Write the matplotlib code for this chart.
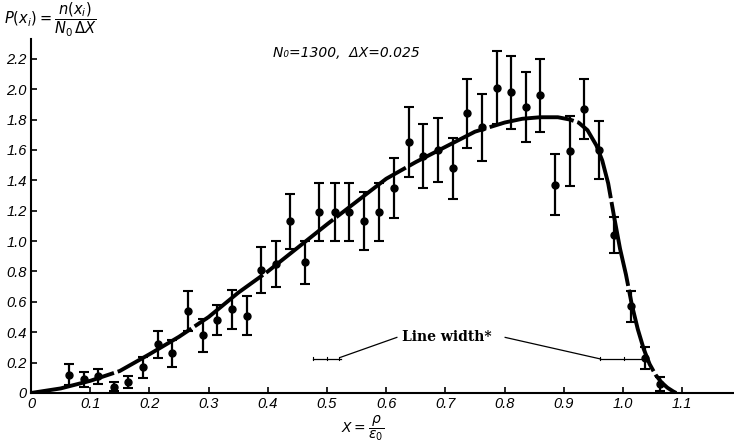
import numpy as np
import matplotlib
matplotlib.use("Agg")
import matplotlib.pyplot as plt

# measured histogram points, X = rho/eps0
x_pts = [0.065, 0.089, 0.114, 0.141, 0.164, 0.189, 0.215, 0.239, 0.265, 0.290,
         0.315, 0.340, 0.365, 0.389, 0.414, 0.438, 0.463, 0.487, 0.514, 0.538,
         0.563, 0.588, 0.614, 0.639, 0.662, 0.687, 0.713, 0.737, 0.762, 0.787,
         0.811, 0.837, 0.860, 0.886, 0.911, 0.934, 0.960, 0.985, 1.013, 1.037,
         1.063]
y_pts = [0.12, 0.09, 0.11, 0.04, 0.07, 0.17, 0.32, 0.26, 0.54, 0.38,
         0.48, 0.55, 0.51, 0.81, 0.85, 1.13, 0.86, 1.19, 1.19, 1.19,
         1.13, 1.19, 1.35, 1.65, 1.56, 1.60, 1.48, 1.84, 1.75, 2.01,
         1.98, 1.88, 1.96, 1.37, 1.59, 1.87, 1.60, 1.04, 0.57, 0.23,
         0.06]
y_err = [0.07, 0.05, 0.05, 0.03, 0.04, 0.07, 0.09, 0.09, 0.13, 0.11,
         0.10, 0.13, 0.13, 0.15, 0.15, 0.18, 0.14, 0.19, 0.19, 0.19,
         0.19, 0.19, 0.20, 0.23, 0.21, 0.21, 0.20, 0.23, 0.22, 0.24,
         0.24, 0.23, 0.24, 0.20, 0.23, 0.20, 0.19, 0.12, 0.10, 0.075,
         0.045]

# fitted curve
x_fit = [0, 0.05, 0.1, 0.15, 0.2, 0.25, 0.3, 0.35, 0.4, 0.45, 0.5, 0.55, 0.6,
         0.65, 0.7, 0.75, 0.8, 0.83, 0.86, 0.89, 0.91, 0.925, 0.94, 0.955,
         0.965, 0.975, 0.985, 0.995, 1.005, 1.015, 1.025, 1.035, 1.045, 1.055,
         1.065, 1.075, 1.085, 1.09]
y_fit = [0, 0.03, 0.08, 0.145, 0.255, 0.37, 0.50, 0.66, 0.80, 0.955, 1.11,
         1.26, 1.41, 1.52, 1.62, 1.72, 1.78, 1.805, 1.815, 1.815, 1.80, 1.78,
         1.73, 1.63, 1.53, 1.38, 1.16, 0.95, 0.78, 0.58, 0.42, 0.29, 0.19,
         0.12, 0.07, 0.035, 0.01, 0.0]

xticks = [0.1, 0.2, 0.3, 0.4, 0.5, 0.6, 0.7, 0.8, 0.9, 1.0, 1.1]
yticks = [0, 0.2, 0.4, 0.6, 0.8, 1.0, 1.2, 1.4, 1.6, 1.8, 2.0, 2.2]

fig = plt.figure(figsize=(7.34, 4.45), dpi=100)
ax = fig.add_axes([31/734, 52/445, 701.5/734, 354/445])

ax.plot(x_fit, y_fit, color="black", lw=2.8, dashes=[22, 1.0], solid_capstyle="round")
ax.errorbar(x_pts, y_pts, yerr=y_err, fmt="o", color="black", ms=5,
            elinewidth=1.6, capsize=3.5, capthick=1.5)

# "line width" markers
ax.plot([0.618, 0.523], [0.366, 0.235], color="black", lw=0.9)
ax.plot([0.477, 0.523], [0.224, 0.224], color="black", lw=0.9)
ax.plot([0.801, 0.962], [0.366, 0.224], color="black", lw=0.9)
ax.plot([0.962, 1.038], [0.224, 0.224], color="black", lw=0.9)
for xt in [0.477, 0.50, 0.52, 0.962, 1.001]:
    ax.plot([xt, xt], [0.214, 0.234], color="black", lw=0.8)
ax.text(0.627, 0.37, "Line width*", family="DejaVu Serif", weight="bold",
        size=10, va="center", ha="left")

ax.text(0.408, 2.24, "N\u2080=1300,  \u0394X=0.025", style="italic", size=10,
        va="center", ha="left")
ax.text(0.56, -0.23, r"$X=\dfrac{\rho}{\varepsilon_0}$", size=10,
        ha="center", va="center", clip_on=False)
fig.text(0.006, 0.955, r"$P(x_i)=\dfrac{n(x_i)}{N_0\,\Delta X}$", size=10.5,
         ha="left", va="center")

ax.set_xlim(0, 1.185)
ax.set_ylim(0, 2.33)
ax.set_xticks([0] + xticks)
ax.set_xticklabels(["0"] + ["%.1f" % v for v in xticks])
ax.set_yticks(yticks)
ax.set_yticklabels(["0"] + ["%.1f" % v for v in yticks[1:]])
for lab in ax.get_xticklabels() + ax.get_yticklabels():
    lab.set_fontfamily("Liberation Sans")
    lab.set_fontstyle("italic")
    lab.set_fontsize(10.5)
ax.tick_params(direction="in", length=4, width=1.2, pad=3)
for s in ["top", "right"]:
    ax.spines[s].set_visible(False)
for s in ["left", "bottom"]:
    ax.spines[s].set_linewidth(1.5)

fig.savefig("out.png", dpi=100)
